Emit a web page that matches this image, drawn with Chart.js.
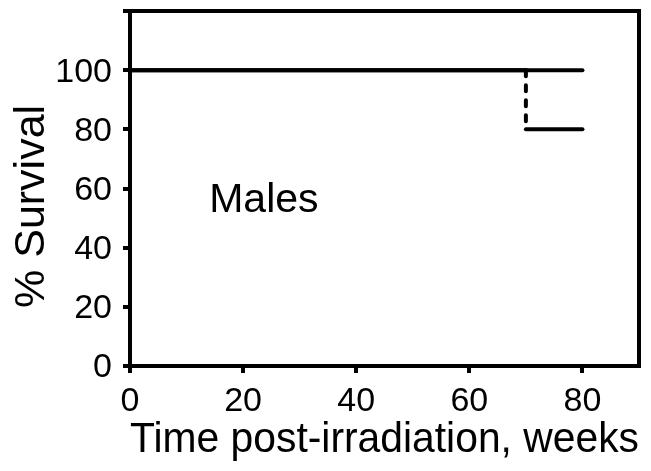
<!DOCTYPE html>
<html>
<head>
<meta charset="utf-8">
<script src="https://cdn.jsdelivr.net/npm/chart.js@4.4.0/dist/chart.umd.min.js"></script>
<style>
  html, body { margin: 0; padding: 0; background: #fff; }
  canvas { display: block; }
</style>
</head>
<body>
<canvas id="survivalChart" width="651" height="471"></canvas>
<script>
// survival data (weeks post-irradiation, % survival)
const allWeeks = [0, 80];
const allSurvival = [100, 100];
const upperWeeks = [0, 70];
const upperSurvival = [100, 100];
const dropWeeks = [70, 70];
const dropSurvival = [100, 80];
const lowerWeeks = [70, 80];
const lowerSurvival = [80, 80];
const xTicks = [0, 20, 40, 60, 80];
const yTicks = [0, 20, 40, 60, 80, 100, 120];
const groupLabel = 'Males';
const groupLabelAt = [14, 52];

const FONT = "'Liberation Sans', Arial, sans-serif";
const toPoints = (xs, ys) => xs.map((x, i) => ({ x: x, y: ys[i] }));
const lineSet = (xs, ys, dash) => ({
    data: toPoints(xs, ys), borderColor: '#000', borderWidth: 4, borderCapStyle: 'round',
    borderDash: dash || [], pointRadius: 0, tension: 0
});

// draws the "Males" note at data coordinates
const notePlugin = {
    id: 'note',
    afterDatasetsDraw(chart) {
        const { ctx, scales } = chart;
        ctx.save();
        ctx.font = `41px ${FONT}`;
        ctx.fillStyle = '#000';
        ctx.textAlign = 'left';
        ctx.textBaseline = 'alphabetic';
        ctx.fillText(groupLabel, scales.x.getPixelForValue(groupLabelAt[0]), scales.y.getPixelForValue(groupLabelAt[1]));
        ctx.restore();
    }
};

const frameAxis = (position) => ({
    position: position, display: true,
    grid: { display: false }, ticks: { display: false },
    border: { display: true, color: '#000', width: 4 },
    afterFit: s => { if (s.isHorizontal()) s.height = 0; else s.width = 0; }
});

new Chart(document.getElementById('survivalChart'), {
    type: 'line',
    data: { datasets: [
        lineSet(allWeeks, allSurvival),
        lineSet(upperWeeks, upperSurvival),
        lineSet(dropWeeks, dropSurvival, [6, 9]),
        lineSet(lowerWeeks, lowerSurvival)
    ] },
    options: {
        responsive: false, animation: false,
        layout: { padding: { top: 11, right: 12, left: 0, bottom: 0 } },
        plugins: { legend: { display: false }, tooltip: { enabled: false } },
        scales: {
            x: {
                type: 'linear', position: 'bottom', min: 0, max: 90, bounds: 'data',
                afterBuildTicks: s => { s.ticks = xTicks.map(v => ({ value: v })); },
                afterFit: s => { s.height = 105; s.paddingLeft = 0; s.paddingRight = 0; },
                grid: { display: true, drawOnChartArea: false, drawTicks: true, tickLength: 7, lineWidth: 4, color: '#000' },
                border: { display: true, color: '#000', width: 4 },
                ticks: { color: '#000', padding: 8, maxRotation: 0, font: { family: FONT, size: 34 } },
                title: { display: true, text: 'Time post-irradiation, weeks', color: '#000', padding: { top: 0, bottom: 5 }, font: { family: FONT, size: 42 } }
            },
            y: {
                type: 'linear', position: 'left', min: 0, max: 120, bounds: 'data',
                afterBuildTicks: s => { s.ticks = yTicks.map(v => ({ value: v })); },
                afterFit: s => { s.width = 130; s.paddingTop = 0; s.paddingBottom = 0; },
                grid: { display: true, drawOnChartArea: false, drawTicks: true, tickLength: 7, lineWidth: 4, color: '#000' },
                border: { display: true, color: '#000', width: 4 },
                ticks: { color: '#000', padding: 11, labelOffset: 2, font: { family: FONT, size: 34 },
                    callback: v => v === 120 ? '' : v },
                title: { display: true, text: '% Survival   ', color: '#000', padding: { top: 6, bottom: 0 }, font: { family: FONT, size: 43 } }
            },
            xTop: frameAxis('top'),
            yRight: frameAxis('right')
        }
    },
    plugins: [notePlugin]
});
</script>
</body>
</html>
